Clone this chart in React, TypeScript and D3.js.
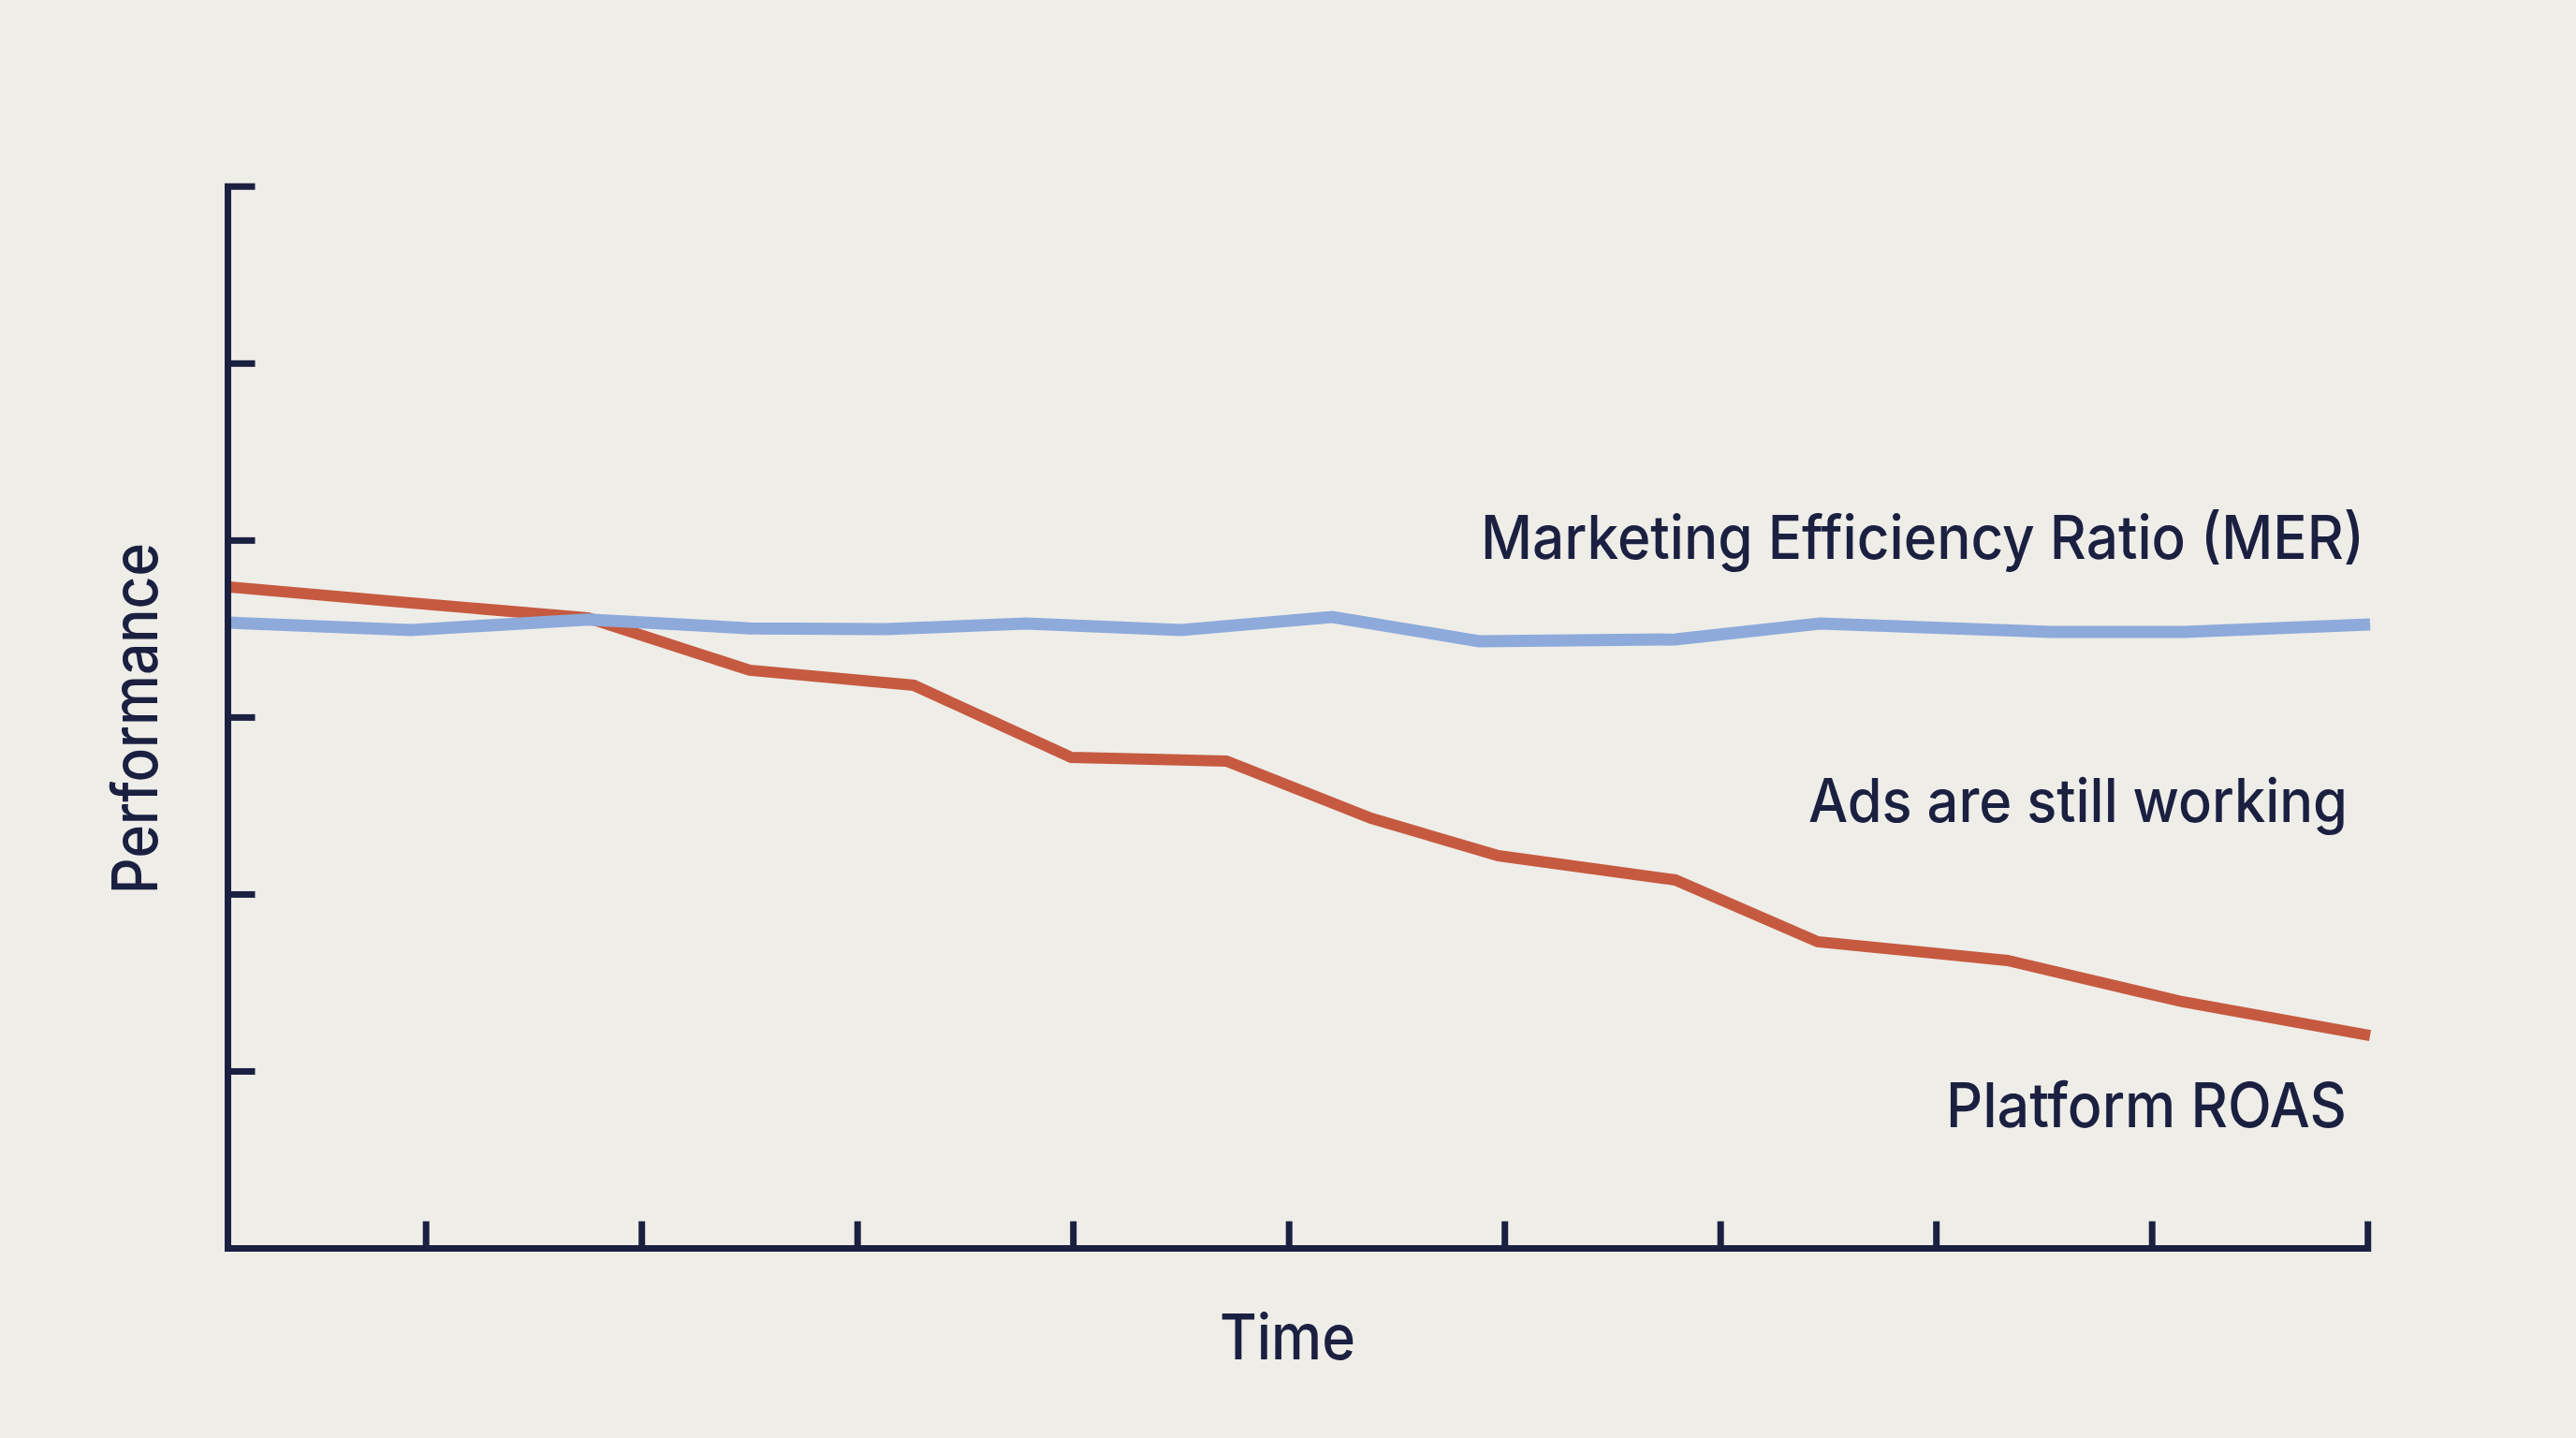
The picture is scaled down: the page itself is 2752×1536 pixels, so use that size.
import React, { useEffect } from "react";
import * as d3 from "d3";

// ---- data ----
const roasTime = [0.09, 0.93, 1.75, 2.5, 3.26, 3.99, 4.71, 5.38, 5.97, 6.79, 7.45, 8.33, 9.14, 10.01];
const roasValues = [3.737, 3.647, 3.563, 3.267, 3.182, 2.775, 2.754, 2.431, 2.219, 2.082, 1.733, 1.627, 1.394, 1.203];
const merTime = [0.09, 0.93, 1.75, 2.5, 3.13, 3.78, 4.5, 5.2, 5.88, 6.79, 7.46, 8.53, 9.15, 10.01];
const merValues = [3.536, 3.494, 3.554, 3.504, 3.499, 3.531, 3.494, 3.568, 3.431, 3.441, 3.531, 3.483, 3.483, 3.526];
const xTickValues = [1, 2, 3, 4, 5, 6, 7, 8, 9, 10];
const yTickValues = [1, 2, 3, 4, 5, 6];
const labels = {
  mer: "Marketing Efficiency Ratio (MER)",
  middle: "Ads are still working",
  roas: "Platform ROAS",
  xTitle: "Time",
  yTitle: "Performance",
};

const W = 2752;
const H = 1536;
const BG = "#EEEDE8";
const INK = "#1B2041";
const RED = "#C65A40";
const BLUE = "#8EAADA";
const FONT = "Inter, 'Noto Sans', sans-serif";
const WEIGHT = 500;

export default function App() {
  useEffect(() => {
    document.body.style.margin = "0";
    document.body.style.background = BG;
  }, []);

  const x = d3.scaleLinear().domain([0, 10]).range([224.7, 2529.7]);
  const y = d3.scaleLinear().domain([0, 6]).range([1333.5, 199.3]);
  const originX = 243.5;
  const tickLen = 29;

  const line = d3
    .line<[number, number]>()
    .x((d) => x(d[0]))
    .y((d) => y(d[1]))
    .curve(d3.curveLinear);

  const roasPts: [number, number][] = roasTime.map((t, i) => [t, roasValues[i]]);
  const merPts: [number, number][] = merTime.map((t, i) => [t, merValues[i]]);

  const axisPath = `M${originX + tickLen},${y(6)} H${originX} V${y(0)} H${x(10)} V${y(0) - tickLen}`;

  return (
    <svg width={W} height={H} style={{ display: "block", background: BG }}>
      <rect x={0} y={0} width={W} height={H} fill={BG} />
      {/* data lines */}
      <path d={line(roasPts) || ""} fill="none" stroke={RED} strokeWidth={12} strokeLinejoin="miter" strokeLinecap="butt" />
      <path d={line(merPts) || ""} fill="none" stroke={BLUE} strokeWidth={13} strokeLinejoin="miter" strokeLinecap="butt" />
      {/* axes */}
      <path d={axisPath} fill="none" stroke={INK} strokeWidth={7} strokeLinejoin="miter" />
      {yTickValues.slice(0, -1).map((v) => (
        <line key={"y" + v} x1={originX} x2={originX + tickLen} y1={y(v)} y2={y(v)} stroke={INK} strokeWidth={7} />
      ))}
      {xTickValues.slice(0, -1).map((v) => (
        <line key={"x" + v} x1={x(v)} x2={x(v)} y1={y(0)} y2={y(0) - tickLen} stroke={INK} strokeWidth={7} />
      ))}
      {/* annotations */}
      <text x={1582} y={596.7} fontFamily={FONT} fontWeight={WEIGHT} fontSize={65} fill={INK} textLength={944} lengthAdjust="spacingAndGlyphs">
        {labels.mer}
      </text>
      <text x={1932} y={878.3} fontFamily={FONT} fontWeight={WEIGHT} fontSize={64} fill={INK} textLength={576} lengthAdjust="spacingAndGlyphs">
        {labels.middle}
      </text>
      <text x={2079} y={1204} fontFamily={FONT} fontWeight={WEIGHT} fontSize={66} fill={INK} textLength={428} lengthAdjust="spacingAndGlyphs">
        {labels.roas}
      </text>
      <text x={1303} y={1451.7} fontFamily={FONT} fontWeight={WEIGHT} fontSize={67} fill={INK} textLength={145} lengthAdjust="spacingAndGlyphs">
        {labels.xTitle}
      </text>
      <text
        transform={`translate(168.3,955) rotate(-90)`}
        fontFamily={FONT}
        fontWeight={WEIGHT}
        fontSize={67}
        fill={INK}
        textLength={375}
        lengthAdjust="spacingAndGlyphs"
      >
        {labels.yTitle}
      </text>
    </svg>
  );
}
